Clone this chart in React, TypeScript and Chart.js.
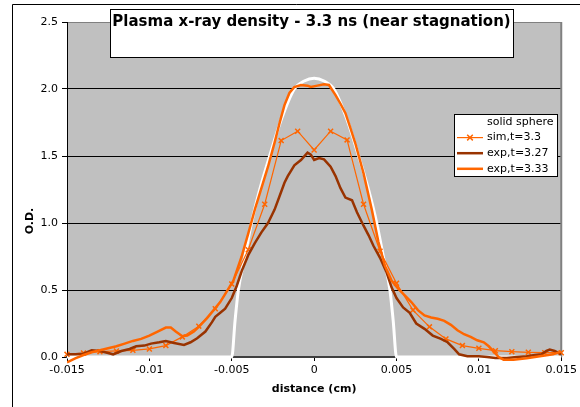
import React, { useEffect, useRef } from 'react';
import { Chart, registerables } from 'chart.js';

Chart.register(...registerables);

const TITLE = 'Plasma x-ray density - 3.3 ns (near stagnation)';
const X_TITLE = 'distance (cm)';
const Y_TITLE = 'O.D.';
const SERIES_NAMES = ['solid sphere', 'sim,t=3.3', 'exp,t=3.27', 'exp,t=3.33'];

const X_TICKS = [-0.015, -0.01, -0.005, 0, 0.005, 0.01, 0.015];
const X_TICK_LABELS = ['-0.015', '-0.01', '-0.005', '0', '0.005', '0.01', '0.015'];
const Y_TICKS = [0, 0.5, 1, 1.5, 2, 2.5];
const Y_TICK_LABELS = ['0.0', '0.5', '1.0', '1.5', '2.0', '2.5'];

const SPHERE_X = [-0.015, -0.005, -0.0048, -0.0046, -0.0042, -0.0038, -0.0033, -0.0027, -0.002, -0.0012, -0.0006, 0,
  0.0006, 0.0012, 0.002, 0.0027, 0.0033, 0.0038, 0.0042, 0.0046, 0.0048, 0.005, 0.015];
const SPHERE_Y = [0, 0, 0.27, 0.5, 0.75, 1.0, 1.25, 1.5, 1.77, 2.0, 2.06, 2.08,
  2.06, 2.0, 1.77, 1.5, 1.25, 1.0, 0.75, 0.5, 0.27, 0, 0];

const SIM_X = [-0.015, -0.014, -0.013, -0.012, -0.011, -0.01, -0.009, -0.008, -0.007, -0.006, -0.005, -0.004, -0.003,
  -0.002, -0.001, 0, 0.001, 0.002, 0.003, 0.004, 0.005, 0.006, 0.007, 0.008, 0.009, 0.01, 0.011, 0.012, 0.013, 0.014, 0.015];
const SIM_Y = [0.02, 0.03, 0.04, 0.045, 0.05, 0.06, 0.085, 0.15, 0.23, 0.36, 0.545, 0.8, 1.14,
  1.615, 1.685, 1.545, 1.685, 1.62, 1.14, 0.79, 0.55, 0.35, 0.225, 0.135, 0.085, 0.065, 0.047, 0.04, 0.035, 0.032, 0.032];

const EXP327_X = [-0.015, -0.0145, -0.014, -0.0135, -0.013, -0.0125, -0.0122, -0.0117, -0.0112, -0.0108, -0.0103, -0.0099,
  -0.0094, -0.009, -0.0085, -0.0079, -0.0075, -0.0071, -0.0066, -0.0062, -0.006, -0.0057, -0.0054, -0.005, -0.0047, -0.0044,
  -0.004, -0.0036, -0.0032, -0.0028, -0.0024, -0.0021, -0.0018, -0.0016, -0.0012, -0.0008, -0.0004, -0.0002, 0, 0.0003,
  0.0006, 0.001, 0.0013, 0.0016, 0.0019, 0.0023, 0.0026, 0.003, 0.0033, 0.0036, 0.004, 0.0044, 0.0047, 0.005, 0.0054,
  0.0058, 0.0062, 0.0067, 0.0072, 0.0077, 0.0081, 0.0085, 0.0088, 0.0093, 0.01, 0.0105, 0.011, 0.0117, 0.0123, 0.0129,
  0.0134, 0.0138, 0.0141, 0.0143, 0.0146, 0.015];
const EXP327_Y = [0.02, 0.02, 0.025, 0.05, 0.045, 0.03, 0.02, 0.045, 0.06, 0.08, 0.085, 0.1,
  0.11, 0.12, 0.105, 0.09, 0.11, 0.14, 0.19, 0.26, 0.3, 0.33, 0.36, 0.44, 0.53, 0.64,
  0.76, 0.85, 0.93, 1.0, 1.1, 1.2, 1.3, 1.35, 1.43, 1.47, 1.525, 1.51, 1.47, 1.485,
  1.475, 1.42, 1.35, 1.26, 1.19, 1.17, 1.08, 0.98, 0.91, 0.83, 0.74, 0.63, 0.52, 0.44, 0.37,
  0.33, 0.25, 0.21, 0.16, 0.135, 0.11, 0.06, 0.02, 0.005, 0.005, 0.0, -0.008, -0.008, 0.0, 0.005,
  0.015, 0.02, 0.045, 0.055, 0.045, 0.02];

const EXP333_X = [-0.015, -0.0145, -0.014, -0.0135, -0.013, -0.0125, -0.012, -0.0115, -0.011, -0.0105, -0.01, -0.0095,
  -0.009, -0.0087, -0.0084, -0.008, -0.0077, -0.0073, -0.007, -0.0065, -0.0061, -0.0057, -0.0053, -0.0049, -0.0044,
  -0.004, -0.0036, -0.0032, -0.0028, -0.0024, -0.0021, -0.0018, -0.0015, -0.0012, -0.0008, -0.0004, -0.0002, 0.0002,
  0.0006, 0.0009, 0.0013, 0.0016, 0.0019, 0.0022, 0.0025, 0.003, 0.0035, 0.0039, 0.0043, 0.0047, 0.0051, 0.0055, 0.0059,
  0.0063, 0.0067, 0.0071, 0.0075, 0.0079, 0.0083, 0.0087, 0.0091, 0.0095, 0.0099, 0.0103, 0.0106, 0.0109, 0.0112,
  0.0115, 0.0121, 0.0129, 0.0137, 0.0145, 0.015];
const EXP333_Y = [-0.04, -0.01, 0.015, 0.035, 0.05, 0.065, 0.08, 0.1, 0.12, 0.135, 0.16, 0.19,
  0.22, 0.22, 0.19, 0.155, 0.16, 0.19, 0.225, 0.29, 0.35, 0.41, 0.49, 0.57, 0.75,
  0.92, 1.1, 1.26, 1.42, 1.6, 1.745, 1.88, 1.97, 2.015, 2.03, 2.025, 2.015, 2.025,
  2.035, 2.03, 1.955, 1.89, 1.82, 1.71, 1.595, 1.37, 1.1, 0.86, 0.68, 0.57, 0.51, 0.46, 0.41,
  0.35, 0.31, 0.295, 0.285, 0.27, 0.24, 0.2, 0.17, 0.15, 0.125, 0.11, 0.08, 0.04, 0.0,
  -0.02, -0.02, -0.01, 0.005, 0.02, 0.04];

const COLORS = ['#FFFFFF', '#FF6600', '#993300', '#FF6600'];
const WIDTHS = [3, 1.2, 2.5, 2.5];

const FONT = '"DejaVu Sans", Verdana, sans-serif';

function pts(xs: number[], ys: number[]) {
  return xs.map((x, i) => ({ x, y: ys[i] }));
}

const decor = {
  id: 'decor',
  beforeDraw(chart: any) {
    const { ctx, chartArea: a } = chart;
    ctx.save();
    ctx.fillStyle = '#ffffff';
    ctx.fillRect(0, 0, chart.width, chart.height);
    ctx.strokeStyle = '#000';
    ctx.lineWidth = 1;
    ctx.beginPath();
    ctx.moveTo(12.5, chart.height + 5);
    ctx.lineTo(12.5, 4.5);
    ctx.lineTo(chart.width + 5, 4.5);
    ctx.stroke();
    ctx.fillStyle = '#C0C0C0';
    ctx.fillRect(a.left, a.top, a.right - a.left, a.bottom - a.top);
    ctx.restore();
  },
  beforeDatasetsDraw(chart: any) {
    const { ctx, chartArea: a } = chart;
    ctx.save();
    ctx.strokeStyle = '#808080';
    ctx.lineWidth = 2;
    ctx.beginPath();
    ctx.moveTo(a.right, a.top);
    ctx.lineTo(a.right, a.bottom);
    ctx.stroke();
    ctx.restore();
  },
  afterDraw(chart: any) {
    const { ctx, chartArea: a } = chart;
    ctx.save();
    // title box
    ctx.fillStyle = '#fff';
    ctx.fillRect(110.5, 9.5, 403, 48);
    ctx.strokeStyle = '#000';
    ctx.lineWidth = 1;
    ctx.strokeRect(110.5, 9.5, 403, 48);
    ctx.fillStyle = '#000';
    ctx.font = 'bold 15px ' + FONT;
    ctx.textAlign = 'center';
    ctx.textBaseline = 'middle';
    ctx.fillText(TITLE, 311.5, 22);

    // axis titles
    ctx.font = 'bold 11px ' + FONT;
    ctx.fillText(X_TITLE, (a.left + a.right) / 2, 389);
    ctx.save();
    ctx.translate(30, 221);
    ctx.rotate(-Math.PI / 2);
    ctx.fillText(Y_TITLE, 0, 0);
    ctx.restore();

    // legend
    ctx.fillStyle = '#fff';
    ctx.fillRect(454.5, 114.5, 103, 62);
    ctx.strokeStyle = '#000';
    ctx.strokeRect(454.5, 114.5, 103, 62);
    ctx.font = '11px ' + FONT;
    ctx.textAlign = 'left';
    SERIES_NAMES.forEach((name, i) => {
      const y = 122 + i * 15.6;
      ctx.strokeStyle = COLORS[i];
      ctx.lineWidth = WIDTHS[i];
      ctx.beginPath();
      ctx.moveTo(457, y);
      ctx.lineTo(483, y);
      ctx.stroke();
      if (i === 1) {
        const r = 2.8;
        ctx.lineWidth = 1.5;
        ctx.beginPath();
        ctx.moveTo(470 - r, y - r);
        ctx.lineTo(470 + r, y + r);
        ctx.moveTo(470 - r, y + r);
        ctx.lineTo(470 + r, y - r);
        ctx.stroke();
      }
      ctx.fillStyle = '#000';
      ctx.fillText(name, 487, y);
    });
    ctx.restore();
  },
};

export default function App() {
  const ref = useRef<HTMLCanvasElement | null>(null);
  useEffect(() => {
    if (!ref.current) return;
    Chart.defaults.font.family = FONT;
    const chart = new Chart(ref.current, {
      type: 'line',
      data: {
        datasets: [
          {
            label: SERIES_NAMES[0], data: pts(SPHERE_X, SPHERE_Y), borderColor: COLORS[0], borderWidth: WIDTHS[0],
            pointRadius: 0, cubicInterpolationMode: 'monotone', order: 3,
            clip: { left: 0, top: 0, right: 0, bottom: 3 } as any,
          },
          {
            label: SERIES_NAMES[1], data: pts(SIM_X, SIM_Y), borderColor: COLORS[1], borderWidth: WIDTHS[1],
            pointStyle: 'crossRot', pointRadius: 3.5, pointBorderWidth: 1.5, pointBorderColor: COLORS[1],
            pointBackgroundColor: COLORS[1], tension: 0, order: 2,
            clip: { left: 5, top: 0, right: 5, bottom: 5 } as any,
          },
          {
            label: SERIES_NAMES[2], data: pts(EXP327_X, EXP327_Y), borderColor: COLORS[2], borderWidth: WIDTHS[2],
            pointRadius: 0, tension: 0, order: 1,
            clip: { left: 0, top: 0, right: 0, bottom: 5 } as any,
          },
          {
            label: SERIES_NAMES[3], data: pts(EXP333_X, EXP333_Y), borderColor: COLORS[3], borderWidth: WIDTHS[3],
            pointRadius: 0, tension: 0, order: 0,
            clip: { left: 0, top: 0, right: 0, bottom: 10 } as any,
          },
        ],
      },
      options: {
        responsive: false,
        animation: false,
        devicePixelRatio: 1,
        layout: { padding: { left: 0, top: 22, right: 17, bottom: 0 }, autoPadding: false } as any,
        plugins: { legend: { display: false }, title: { display: false }, tooltip: { enabled: false } },
        scales: {
          x: {
            type: 'linear', min: -0.015, max: 0.015,
            afterFit(s: any) { s.height = 50; },
            afterBuildTicks(s: any) { s.ticks = X_TICKS.map((v) => ({ value: v })); },
            ticks: {
              callback: (_v: any, i: number) => X_TICK_LABELS[i], color: '#000', font: { size: 11 },
              padding: 3, maxRotation: 0, autoSkip: false,
            },
            grid: { drawOnChartArea: false, tickLength: 4, tickColor: '#000' },
            border: { color: '#404040', width: 2 },
          },
          y: {
            type: 'linear', min: 0, max: 2.5,
            afterFit(s: any) { s.width = 67; },
            afterBuildTicks(s: any) { s.ticks = Y_TICKS.map((v) => ({ value: v })); },
            ticks: {
              callback: (_v: any, i: number) => Y_TICK_LABELS[i], color: '#000', font: { size: 11 }, padding: 4,
            },
            grid: {
              color: (c: any) => (c.tick && c.tick.value === 2.5 ? '#808080' : '#000'),
              lineWidth: 1, tickLength: 5, tickColor: '#000',
            },
            border: { color: '#000', width: 1 },
          },
        } as any,
      },
      plugins: [decor],
    });
    return () => chart.destroy();
  }, []);
  return (
    <div style={{ position: 'absolute', left: 0, top: 0, width: 580, height: 407 }}>
      <canvas ref={ref} width={580} height={407} style={{ display: 'block', width: 580, height: 407 }} />
    </div>
  );
}
